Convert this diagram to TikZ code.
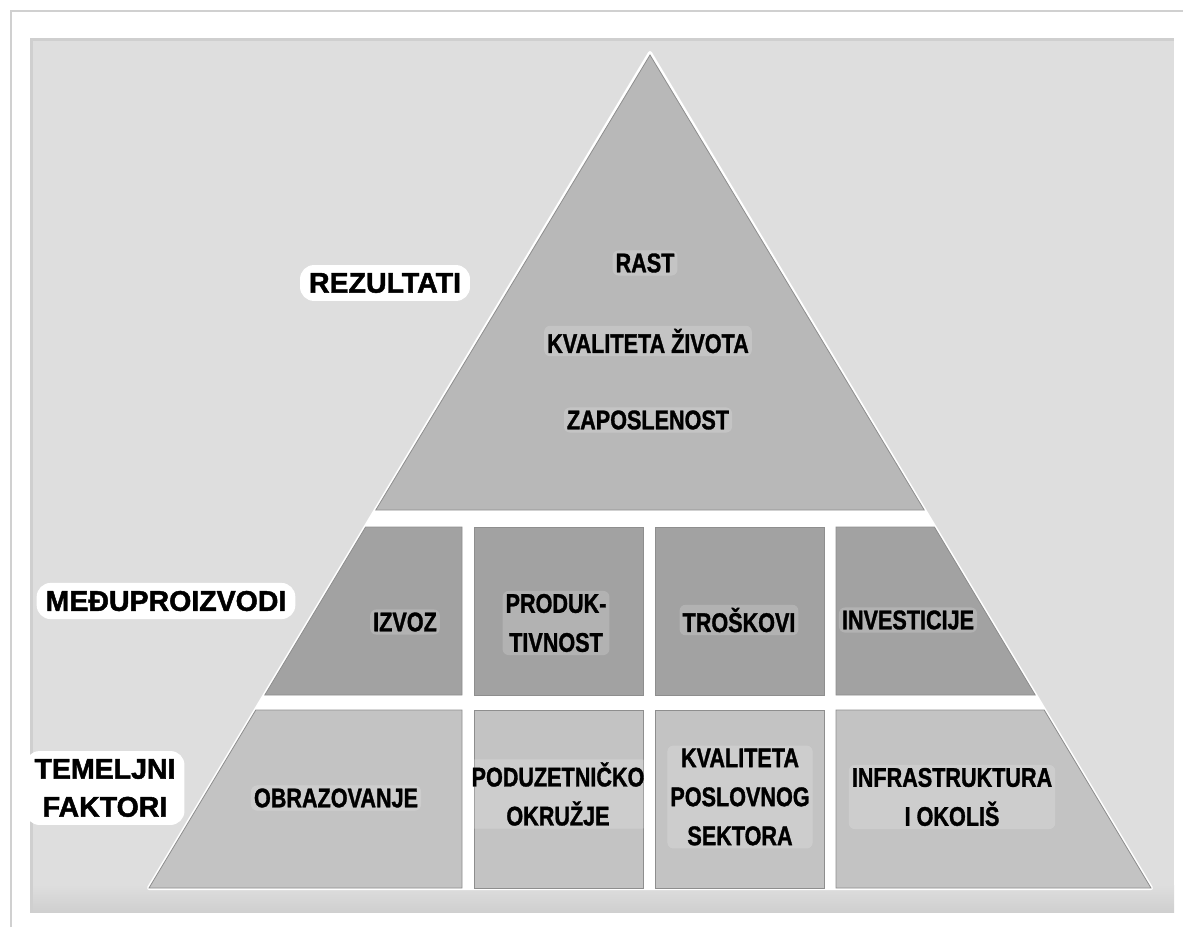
\documentclass[tikz,border=0pt]{standalone}
\usepackage{fontspec}
\newfontfamily\lblfont{Liberation Sans}[FakeStretch=0.8,BoldFeatures={FakeBold=1.2}]
\newfontfamily\sidefont{Liberation Sans}[BoldFeatures={FakeBold=1.6}]
\definecolor{panel}{HTML}{DEDEDE}
\definecolor{panelshade}{HTML}{CFCFCF}
\definecolor{frameline}{HTML}{D0D0D0}
\definecolor{toptier}{HTML}{B8B8B8}
\definecolor{midtier}{HTML}{A2A2A2}
\definecolor{bottier}{HTML}{C3C3C3}
\definecolor{edge}{HTML}{8E8E8E}
\begin{document}
\begin{tikzpicture}[x=1pt,y=-1pt,
  tier/.style={draw=edge,line width=0.8pt},
  lbl/.style={font=\fontsize{27}{39}\selectfont\lblfont\bfseries, align=center, inner sep=3pt, text=black,
    fill=white, fill opacity=0.18, text opacity=1, rounded corners=6pt},
  side/.style={font=\fontsize{28.5}{38}\selectfont\sidefont\bfseries, align=center, text=black,
    fill=white, rounded corners=14pt, inner xsep=9pt, inner ysep=8pt},
]
\useasboundingbox (0,0) rectangle (1183,927);
% frame and panel
\draw[frameline, line width=2pt] (11,927) -- (11,11) -- (1183,11);
\fill[panel] (30,38) rectangle (1174,912);
\shade[top color=panel, bottom color=panelshade] (30,885) rectangle (1174,912);
\fill[panelshade] (30,38) rectangle (1174,41);
\fill[panelshade] (30,38) rectangle (33,912);
% white base triangle (gaps and glow)
\filldraw[white, line width=4pt, line join=round] (650,53) -- (1151,888) -- (149,888) -- cycle;
% top tier
\filldraw[tier, fill=toptier] (650,55) -- (924.2,510) -- (375.8,510) -- cycle;
% middle tier
\filldraw[tier, fill=midtier] (365.6,527) -- (462,527) -- (462,695) -- (264.8,695) -- cycle;
\filldraw[tier, fill=midtier] (474,527) rectangle (643,695);
\filldraw[tier, fill=midtier] (655,527) rectangle (824,695);
\filldraw[tier, fill=midtier] (836,527) -- (934.4,527) -- (1035.2,695) -- (836,695) -- cycle;
% bottom tier
\filldraw[tier, fill=bottier] (255.8,710) -- (462,710) -- (462,888) -- (149,888) -- cycle;
\filldraw[tier, fill=bottier] (474,710) rectangle (643,888);
\filldraw[tier, fill=bottier] (655,710) rectangle (824,888);
\filldraw[tier, fill=bottier] (836,710) -- (1044.2,710) -- (1151,888) -- (836,888) -- cycle;
% top labels
\node[lbl] (rast) at (645,263) {RAST};
\node[lbl] (kvalz) at (648,341) {KVALITETA ŽIVOTA};
\node[lbl] (zap) at (648,420) {ZAPOSLENOST};
% side labels
\node[side] (rez) at (385,283) {REZULTATI};
\node[side] (medu) at (166,601) {MEĐUPROIZVODI};
\node[side] (tem) at (105,788) {TEMELJNI\\FAKTORI};
% middle labels
\node[lbl] (izvoz) at (405,622) {IZVOZ};
\node[lbl] (prod) at (556,623) {PRODUK-\\TIVNOST};
\node[lbl] (tros) at (739,620) {TROŠKOVI};
\node[lbl] (inv) at (908,620) {INVESTICIJE};
% bottom labels
\node[lbl] (obr) at (336,798) {OBRAZOVANJE};
\node[lbl] (pod) at (558,794) {PODUZETNIČKO\\OKRUŽJE};
\node[lbl] (kps) at (740,797) {KVALITETA\\POSLOVNOG\\SEKTORA};
\node[lbl] (inf) at (952,797) {INFRASTRUKTURA\\I OKOLIŠ};
\end{tikzpicture}
\end{document}
